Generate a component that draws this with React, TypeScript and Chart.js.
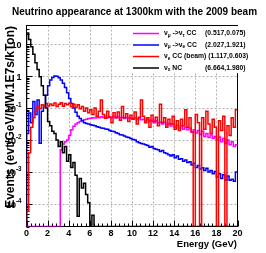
import React, { useEffect, useRef } from 'react';
import { Chart, registerables } from 'chart.js';

Chart.register(...registerables);

// ---- axis ranges / binning ----
const BIN_WIDTH = 0.2;
const E_MIN = 0;
const E_MAX = 20;
const Y_MIN = 2e-5;
const Y_MAX = 38;

const xTickValues = [0, 2, 4, 6, 8, 10, 12, 14, 16, 18, 20];
const yDecades = [-4, -3, -2, -1, 0, 1];

const chartTitle = 'Neutrino appearance at 1300km with the 2009 beam';
const xTitle = 'Energy (GeV)';
const yTitle = 'Events (evt/GeV/MW.1E7s/kTon)';

// ---- series (events per 0.2 GeV bin, bins 0-0.2 ... 19.8-20) ----
const nuMuToNuTau = [
  0, 0, 0, 0, 0, 0, 0, 0, 0, 0,
  0, 0, 0, 0, 0, 0, 0.005, 0.0076, 0.0089, 0.01,
  0.014, 0.021, 0.027, 0.032, 0.035, 0.038, 0.04, 0.043, 0.045, 0.047,
  0.048, 0.05, 0.049, 0.052, 0.05, 0.054, 0.051, 0.055, 0.05, 0.054,
  0.051, 0.056, 0.05, 0.054, 0.049, 0.052, 0.047, 0.051, 0.048, 0.05,
  0.046, 0.049, 0.044, 0.047, 0.043, 0.045, 0.04, 0.044, 0.038, 0.042,
  0.035, 0.04, 0.034, 0.037, 0.032, 0.036, 0.03, 0.033, 0.0275, 0.032,
  0.025, 0.029, 0.024, 0.028, 0.022, 0.025, 0.021, 0.0234, 0.018, 0.021,
  0.0166, 0.02, 0.015, 0.019, 0.013, 0.016, 0.012, 0.0145, 0.0115, 0.013,
  0.01, 0.0125, 0.0089, 0.0112, 0.0079, 0.01, 0.0071, 0.0089, 0.0063, 0.0071,
];

const nuMuToNuE = [
  0.016, 0.07, 0.035, 0.16, 0.063, 0.18, 0.008, 0.079, 0.112, 0.25,
  0.5, 0.76, 0.91, 1.0, 0.98, 0.89, 0.76, 0.6, 0.44, 0.3,
  0.2, 0.138, 0.1, 0.074, 0.056, 0.047, 0.04, 0.035, 0.033, 0.032,
  0.03, 0.029, 0.028, 0.026, 0.025, 0.024, 0.0235, 0.0224, 0.022, 0.02,
  0.019, 0.0186, 0.017, 0.0162, 0.0148, 0.0145, 0.0135, 0.0126, 0.012, 0.0112,
  0.0105, 0.01, 0.0089, 0.0083, 0.0079, 0.0076, 0.0071, 0.0068, 0.006, 0.0063,
  0.0055, 0.0052, 0.005, 0.0044, 0.0047, 0.004, 0.0038, 0.0035, 0.0032, 0.0035,
  0.0028, 0.0032, 0.0025, 0.0026, 0.0022, 0.0024, 0.002, 0.0021, 0.00166, 0.0019,
  0.0014, 0.0016, 0.00126, 0.00138, 0.00112, 0.00132, 0.001, 0.00112, 0.00089, 0.00105,
  0.0007, 0.00089, 0.00063, 0.00083, 0.00056, 0.00076, 0.00056, 0.0006, 0.00052, 0.001,
];

const nuEBeam = [
  0.00006, 0.004, 0.025, 0.05, 0.079, 0.112, 0.095, 0.126, 0.112, 0.138,
  0.117, 0.135, 0.12, 0.145, 0.112, 0.132, 0.148, 0.115, 0.138, 0.126,
  0.141, 0.11, 0.132, 0.105, 0.126, 0.095, 0.112, 0.079, 0.1, 0.071,
  0.089, 0.063, 0.1, 0.056, 0.079, 0.178, 0.063, 0.048, 0.079, 0.052,
  0.035, 0.071, 0.05, 0.076, 0.042, 0.112, 0.05, 0.066, 0.038, 0.06,
  0.045, 0.076, 0.032, 0.052, 0.178, 0.056, 0.035, 0.05, 0.025, 0.06,
  0.038, 0.052, 0.028, 0.132, 0.035, 0.05, 0.025, 0.045, 0.032, 0.056,
  0.022, 0.04, 0.02, 0.045, 0.028, 0.089, 0.025, 0.05, 0.018, 0,
  0.063, 0.035, 0, 0.05, 0.022, 0.079, 0.032, 0.016, 0.045, 0.025,
  0, 0.04, 0.02, 0.056, 0, 0.028, 0.014, 0.05, 0.025, 0.089,
];

const nuXNC = [
  22, 14, 8.3, 4.8, 2.6, 1.6, 0.95, 0.5, 0.25, 0.1,
  0.038, 0.028, 0.019, 0.016, 0.01, 0.0063, 0.0089, 0.004, 0.0063, 0.0022,
  0.0035, 0.0014, 0.002, 0.0008, 0.000042, 0.00063, 0.00032, 0.00045, 0.0002, 0.00011,
  0, 0.000045, 0, 0, 0, 0, 0, 0, 0, 0,
  0, 0, 0, 0, 0, 0, 0, 0, 0, 0,
  0, 0, 0, 0, 0, 0, 0, 0, 0, 0,
  0, 0, 0, 0, 0, 0, 0, 0, 0, 0,
  0, 0, 0, 0, 0, 0, 0, 0, 0, 0,
  0, 0, 0, 0, 0, 0, 0, 0, 0, 0,
  0, 0, 0, 0, 0, 0, 0, 0, 0, 0,
];

type Run = { t: string; s?: 'sub' | 'sup' };

const legendLabels: Run[][] = [
  [{ t: 'ν' }, { t: 'μ', s: 'sub' }, { t: ' ->ν' }, { t: 'τ', s: 'sub' }, { t: ' CC' }],
  [{ t: 'ν' }, { t: 'μ', s: 'sub' }, { t: ' ->ν' }, { t: 'e', s: 'sub' }, { t: ' CC' }],
  [{ t: 'ν' }, { t: 'e', s: 'sub' }, { t: ' CC (beam)' }],
  [{ t: 'ν' }, { t: 'x', s: 'sub' }, { t: ' NC' }],
];
const legendStats = ['(0.517,0.075)', '(2.027,1.921)', '(1.117,0.603)', '(6.664,1.980)'];
const seriesColors = ['#ff00ff', '#0000ff', '#ff0000', '#000000'];
const seriesValues = [nuMuToNuTau, nuMuToNuE, nuEBeam, nuXNC];

const FONT = '"Liberation Sans", Arial, Helvetica, sans-serif';

function measureRuns(ctx: CanvasRenderingContext2D, runs: Run[], size: number) {
  const small = size * 0.7;
  return runs.map((r) => {
    ctx.font = `bold ${r.s ? small : size}px ${FONT}`;
    return ctx.measureText(r.t).width;
  });
}

function drawRuns(
  ctx: CanvasRenderingContext2D,
  runs: Run[],
  x: number,
  y: number,
  size: number,
  align: 'left' | 'right' | 'center',
) {
  const small = size * 0.7;
  const widths = measureRuns(ctx, runs, size);
  const total = widths.reduce((a, b) => a + b, 0);
  let cx = align === 'right' ? x - total : align === 'center' ? x - total / 2 : x;
  ctx.textAlign = 'left';
  ctx.textBaseline = 'middle';
  runs.forEach((r, i) => {
    ctx.font = `bold ${r.s ? small : size}px ${FONT}`;
    const dy = r.s === 'sub' ? size * 0.32 : r.s === 'sup' ? -size * 0.42 : 0;
    ctx.fillText(r.t, cx, y + dy);
    cx += widths[i];
  });
  return cx;
}

function toSteps(values: number[]) {
  const pts = [{ x: E_MIN, y: Y_MIN }];
  values.forEach((v, i) => {
    pts.push({ x: E_MIN + (i + 1) * BIN_WIDTH, y: v > 0 ? v : Y_MIN });
  });
  return pts;
}

const decorPlugin = {
  id: 'rootDecor',
  beforeDraw(chart: any) {
    const { ctx, width, height } = chart;
    ctx.save();
    ctx.fillStyle = '#ffffff';
    ctx.fillRect(0, 0, width, height);
    ctx.restore();
  },
  beforeDatasetsDraw(chart: any) {
    const { ctx, chartArea: a, scales } = chart;
    const xs = scales.x;
    const ys = scales.y;
    ctx.save();
    // grid
    ctx.strokeStyle = '#b0b0b0';
    ctx.lineWidth = 1;
    ctx.setLineDash([2, 2]);
    xTickValues.forEach((v) => {
      if (v <= E_MIN || v >= E_MAX) return;
      const px = Math.round(xs.getPixelForValue(v)) + 0.5;
      ctx.beginPath();
      ctx.moveTo(px, a.top);
      ctx.lineTo(px, a.bottom);
      ctx.stroke();
    });
    yDecades.forEach((d) => {
      const py = Math.round(ys.getPixelForValue(Math.pow(10, d))) + 0.5;
      ctx.beginPath();
      ctx.moveTo(a.left, py);
      ctx.lineTo(a.right, py);
      ctx.stroke();
    });
    ctx.setLineDash([]);
    // frame
    ctx.strokeStyle = '#000000';
    ctx.strokeRect(a.left, a.top, a.right - a.left, a.bottom - a.top);
    // x ticks (major every 2, minor every 0.4)
    ctx.beginPath();
    for (let k = 0; k <= 50; k++) {
      const v = E_MIN + k * 0.4;
      const px = Math.round(xs.getPixelForValue(v)) + 0.5;
      const major = k % 5 === 0;
      ctx.moveTo(px, a.bottom);
      ctx.lineTo(px, a.bottom - (major ? 6 : 3));
    }
    // y ticks (log)
    for (let d = -5; d <= 1; d++) {
      for (let m = 1; m <= 9; m++) {
        const v = m * Math.pow(10, d);
        if (v < Y_MIN || v > Y_MAX) continue;
        const py = Math.round(ys.getPixelForValue(v)) + 0.5;
        ctx.moveTo(a.left, py);
        ctx.lineTo(a.left + (m === 1 ? 6 : 3), py);
      }
    }
    ctx.stroke();
    ctx.restore();
  },
  afterDatasetsDraw(chart: any) {
    const { ctx, chartArea: a, scales } = chart;
    const xs = scales.x;
    const ys = scales.y;
    ctx.save();
    ctx.fillStyle = '#000000';
    // title
    ctx.font = `bold 10px ${FONT}`;
    ctx.textAlign = 'center';
    ctx.textBaseline = 'middle';
    ctx.fillText(chartTitle, 134.5, 12);
    // x tick labels
    xTickValues.forEach((v) => {
      ctx.textAlign = 'center';
      ctx.textBaseline = 'middle';
      ctx.font = `bold 9px ${FONT}`;
      ctx.fillText(String(v), xs.getPixelForValue(v), 233.5);
    });
    // y tick labels
    yDecades.forEach((d) => {
      const py = ys.getPixelForValue(Math.pow(10, d)) + 1;
      const runs: Run[] = d === 0 ? [{ t: '1' }] : d === 1 ? [{ t: '10' }] : [{ t: '10' }, { t: String(d), s: 'sup' }];
      drawRuns(ctx, runs, 21.5, py, 9, 'right');
    });
    // x title
    ctx.font = `bold 9.5px ${FONT}`;
    ctx.textAlign = 'right';
    ctx.textBaseline = 'middle';
    ctx.fillText(xTitle, 237, 244.5);
    // y title
    ctx.save();
    ctx.translate(11, 26);
    ctx.rotate(-Math.PI / 2);
    ctx.font = `bold 12px ${FONT}`;
    ctx.textAlign = 'right';
    ctx.textBaseline = 'middle';
    ctx.fillText(yTitle, 0, 0);
    ctx.restore();
    // legend
    ctx.fillStyle = '#ffffff';
    ctx.fillRect(131, a.top + 0.5, 122, 47);
    const rowY = [33.5, 45, 56.5, 68];
    const LS = 6.8;
    legendLabels.forEach((runs, i) => {
      ctx.strokeStyle = seriesColors[i];
      ctx.lineWidth = 1.5;
      ctx.beginPath();
      ctx.moveTo(133, rowY[i]);
      ctx.lineTo(159, rowY[i]);
      ctx.stroke();
      ctx.fillStyle = '#000000';
      const end = drawRuns(ctx, runs, 164, rowY[i], LS, 'left');
      ctx.font = `bold ${LS}px ${FONT}`;
      const sw = ctx.measureText(legendStats[i]).width;
      const spaceW = ctx.measureText(' ').width;
      const sx = Math.max(245.5 - sw, end + spaceW);
      drawRuns(ctx, [{ t: legendStats[i] }], sx, rowY[i], LS, 'left');
    });
    ctx.restore();
  },
};

export default function App() {
  const canvasRef = useRef<HTMLCanvasElement | null>(null);

  useEffect(() => {
    document.body.style.margin = '0';
    const canvas = canvasRef.current;
    if (!canvas) return;
    const order = [3, 2, 1, 0]; // black drawn last (on top)
    const datasets = order.map((idx) => ({
      label: String(idx),
      data: toSteps(seriesValues[idx]),
      borderColor: seriesColors[idx],
      backgroundColor: seriesColors[idx],
      borderWidth: 1.5,
      pointRadius: 0,
      stepped: 'after' as const,
      fill: false,
      tension: 0,
    }));
    const chart = new Chart(canvas, {
      type: 'line',
      data: { datasets },
      options: {
        responsive: false,
        animation: false,
        devicePixelRatio: 1,
        layout: { padding: { left: 26.5, right: 28.5, top: 25.5, bottom: 26.5 } },
        plugins: { legend: { display: false }, tooltip: { enabled: false }, title: { display: false } },
        scales: {
          x: { type: 'linear', min: E_MIN, max: E_MAX, display: false },
          y: { type: 'logarithmic', min: Y_MIN, max: Y_MAX, display: false },
        },
      },
      plugins: [decorPlugin],
    });
    return () => chart.destroy();
  }, []);

  return (
    <div style={{ position: 'absolute', left: 0, top: 0, width: 266, height: 253 }}>
      <canvas ref={canvasRef} width={266} height={253} style={{ display: 'block', width: 266, height: 253 }} />
    </div>
  );
}
